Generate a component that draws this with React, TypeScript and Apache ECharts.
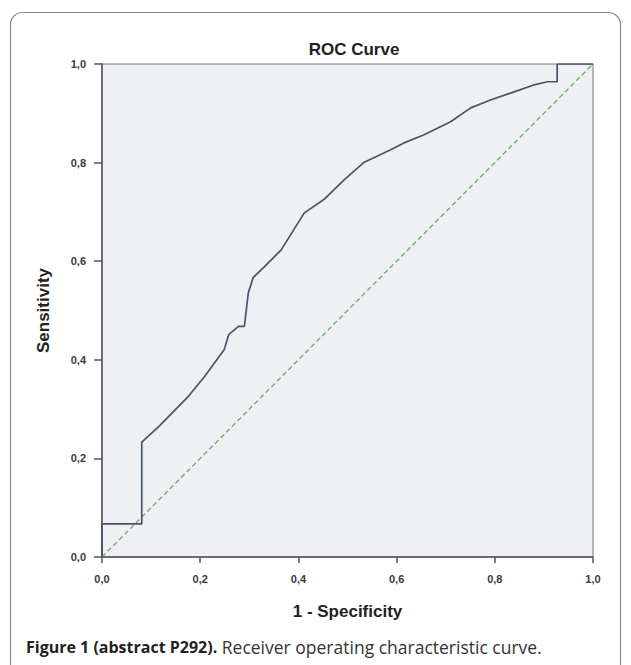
import React, { useEffect, useRef } from "react";
import * as echarts from "echarts";

const chartTitle = "ROC Curve";
const xAxisName = "1 - Specificity";
const yAxisName = "Sensitivity";
const captionBold = "Figure 1 (abstract P292).";
const captionText = " Receiver operating characteristic curve.";

// ROC curve points (1 - specificity, sensitivity)
const rocFpr = [0, 0, 0.081, 0.081, 0.116, 0.176, 0.209, 0.249, 0.258, 0.278, 0.29, 0.294, 0.298, 0.308, 0.331, 0.365, 0.412, 0.452, 0.493, 0.533, 0.588, 0.615, 0.655, 0.71, 0.751, 0.791, 0.832, 0.878, 0.907, 0.927, 0.927, 1];
const rocTpr = [0, 0.067, 0.067, 0.233, 0.265, 0.326, 0.366, 0.421, 0.451, 0.468, 0.468, 0.502, 0.536, 0.567, 0.589, 0.623, 0.698, 0.725, 0.765, 0.8, 0.826, 0.84, 0.856, 0.883, 0.911, 0.927, 0.941, 0.957, 0.964, 0.964, 1, 1];

// Reference (chance) diagonal
const refX = [0, 1];
const refY = [0, 1];

const fmt = (v: number) => v.toFixed(1).replace(".", ",");

export default function App() {
  const ref = useRef<HTMLDivElement>(null);
  useEffect(() => {
    if (!ref.current) return;
    const chart = echarts.init(ref.current, undefined, { renderer: "svg" });
    const labelStyle = {
      fontFamily: "Liberation Sans",
      fontWeight: "bold" as const,
      fontSize: 11,
      color: "#3a3a3a",
    };
    const nameStyle = {
      fontFamily: "Liberation Sans",
      fontWeight: "bold" as const,
      fontSize: 17,
      color: "#222",
    };
    chart.setOption({
      animation: false,
      backgroundColor: "#ffffff",
      title: {
        text: chartTitle,
        left: 349,
        textAlign: "center",
        top: 36,
        textStyle: {
          fontFamily: "Liberation Sans",
          fontWeight: "bold",
          fontSize: 17,
          color: "#222",
        },
      },
      grid: {
        left: 102,
        right: 38,
        top: 64,
        bottom: 108,
        show: true,
        backgroundColor: "#eef0f3",
        borderColor: "#777",
        borderWidth: 1,
      },
      xAxis: {
        type: "value",
        min: 0,
        max: 1,
        interval: 0.2,
        name: xAxisName,
        nameLocation: "middle",
        nameGap: 46,
        nameTextStyle: nameStyle,
        axisLine: { show: true, lineStyle: { color: "#555", width: 1.5 } },
        axisTick: { show: true, length: 6, lineStyle: { color: "#555", width: 1.5 } },
        axisLabel: { ...labelStyle, margin: 16, formatter: fmt },
        splitLine: { show: false },
      },
      yAxis: {
        type: "value",
        min: 0,
        max: 1,
        interval: 0.2,
        offset: 4,
        name: yAxisName,
        nameLocation: "middle",
        nameGap: 46,
        nameRotate: 90,
        nameTextStyle: nameStyle,
        axisLine: { show: true, lineStyle: { color: "#555", width: 1.5 } },
        axisTick: { show: true, length: 8, lineStyle: { color: "#555", width: 1.5 } },
        axisLabel: { ...labelStyle, margin: 12, formatter: fmt },
        splitLine: { show: false },
      },
      series: [
        {
          type: "line",
          name: "Reference",
          data: refX.map((x, i) => [x, refY[i]]),
          showSymbol: false,
          lineStyle: { color: "#72ad72", width: 1.4, type: [5, 3] },
          z: 2,
        },
        {
          type: "line",
          name: "ROC",
          data: rocFpr.map((x, i) => [x, rocTpr[i]]),
          showSymbol: false,
          lineStyle: { color: "#4a5468", width: 1.7 },
          z: 3,
        },
      ],
      graphic: [
        {
          type: "rect",
          shape: { x: 10.5, y: 12.5, width: 610, height: 700, r: 12 },
          style: { fill: "none", stroke: "#8a8a8a", lineWidth: 1.2 },
          silent: true,
        },
        {
          type: "text",
          left: 26,
          top: 638,
          style: {
            text: `{b|${captionBold}}{r|${captionText}}`,
            rich: {
              b: { fontFamily: "Open Sans", fontWeight: "bold", fontSize: 16, fill: "#222" },
              r: { fontFamily: "Open Sans", fontSize: 17.5, fill: "#333" },
            },
          },
        },
      ],
    });
    return () => chart.dispose();
  }, []);
  return (
    <div
      ref={ref}
      style={{ position: "fixed", left: 0, top: 0, width: 631, height: 665 }}
    />
  );
}
